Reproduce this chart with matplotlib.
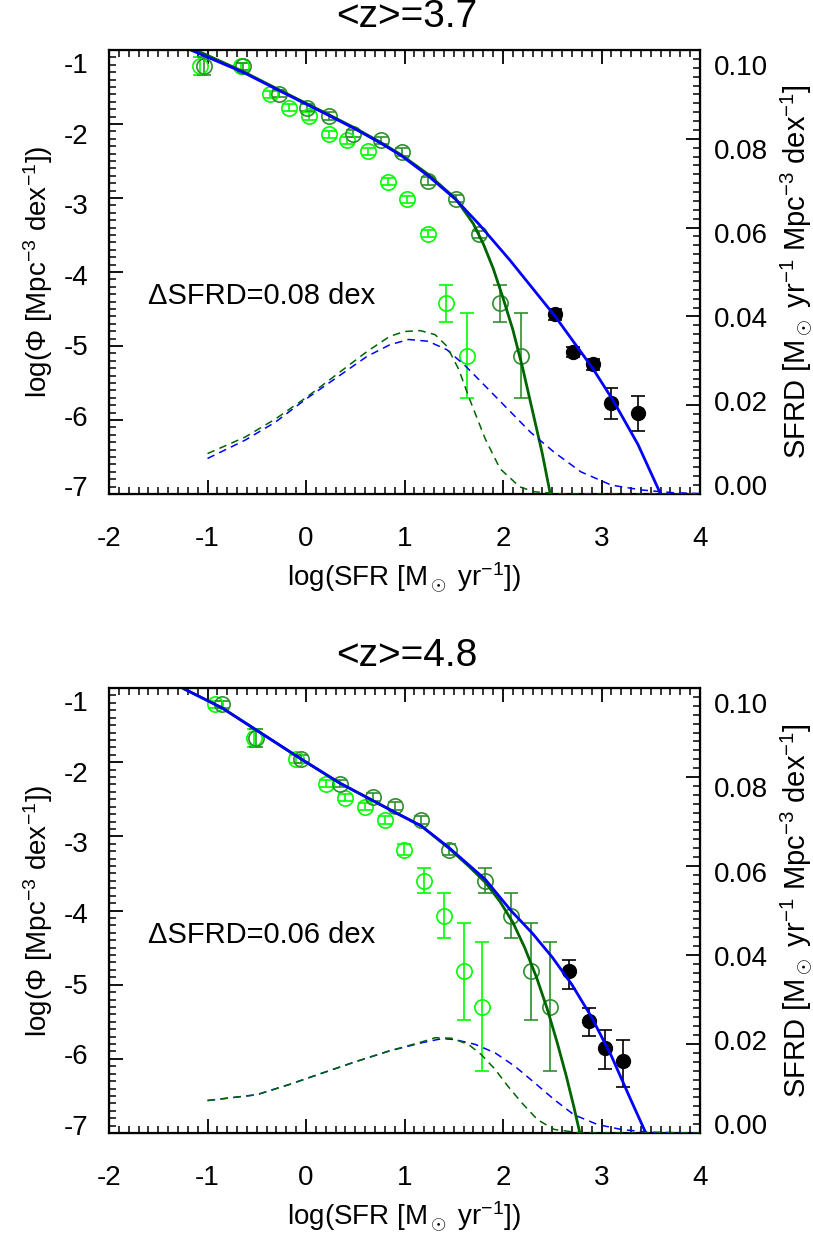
import numpy as np
import matplotlib.pyplot as plt
from matplotlib.ticker import MultipleLocator, NullLocator, FixedLocator, FormatStrFormatter

plt.rcParams['font.family'] = ['Liberation Sans', 'DejaVu Sans']
plt.rcParams['mathtext.fontset'] = 'custom'
plt.rcParams['mathtext.rm'] = 'Liberation Sans'
plt.rcParams['mathtext.it'] = 'Liberation Sans:italic'
plt.rcParams['axes.unicode_minus'] = False

# tick label values
phi_ticks = [-7, -6, -5, -4, -3, -2, -1]
sfrd_ticks = [0.0, 0.02, 0.04, 0.06, 0.08, 0.10]

# ---- <z>=3.7 ----
uv_x_37 = [-1.08, -0.66, -0.37, -0.17, 0.03, 0.23, 0.42, 0.63, 0.83, 1.03, 1.24, 1.42, 1.63]
uv_y_37 = [-1.22, -1.22, -1.60, -1.78, -1.89, -2.14, -2.22, -2.37, -2.78, -3.02, -3.48, -4.42, -5.13]
uv_e_37 = [0.12, 0.05, 0.05, 0.05, 0.05, 0.05, 0.05, 0.05, 0.05, 0.05, 0.05, 0.25, 0.57]
dc_x_37 = [-1.04, -0.64, -0.27, 0.01, 0.23, 0.48, 0.76, 0.97, 1.24, 1.52, 1.76, 1.97, 2.18]
dc_y_37 = [-1.22, -1.22, -1.59, -1.78, -1.89, -2.13, -2.22, -2.38, -2.77, -3.01, -3.49, -4.42, -5.13]
dc_e_37 = [0.12, 0.05, 0.05, 0.05, 0.05, 0.05, 0.05, 0.05, 0.05, 0.05, 0.05, 0.25, 0.57]
ir_x_37 = [2.53, 2.71, 2.91, 3.10, 3.37]
ir_y_37 = [-4.57, -5.08, -5.24, -5.77, -5.90]
ir_lo_37 = [0.08, 0.07, 0.08, 0.22, 0.25]
ir_hi_37 = [0.07, 0.06, 0.07, 0.20, 0.23]

blue_x_37 = [-1.17, -0.64, -0.27, 0.24, 0.49, 0.76, 0.97, 1.24, 1.52, 1.76, 2.07, 2.30, 2.53, 2.72, 2.91, 3.12, 3.37, 3.60]
blue_y_37 = [-1.00, -1.30, -1.55, -1.89, -2.06, -2.26, -2.43, -2.70, -3.02, -3.36, -3.84, -4.22, -4.60, -4.95, -5.30, -5.74, -6.33, -7.00]
green_x_37 = [-1.12, -0.64, -0.27, 0.24, 0.49, 0.76, 0.97, 1.24, 1.52, 1.70, 1.80, 1.90, 2.00, 2.10, 2.20, 2.30, 2.40, 2.48]
green_y_37 = [-1.00, -1.29, -1.54, -1.88, -2.05, -2.25, -2.42, -2.68, -3.01, -3.35, -3.62, -3.95, -4.35, -4.78, -5.30, -5.88, -6.46, -7.00]

# SFRD density curves (right axis)
bdash_x_37 = [-1.0, -0.62, -0.31, 0.0, 0.31, 0.62, 0.85, 1.04, 1.24, 1.43, 1.62, 1.82, 2.05, 2.28, 2.52, 2.79, 3.10, 3.41, 3.72, 4.0]
bdash_s_37 = [0.0080, 0.0121, 0.0162, 0.0214, 0.0262, 0.0310, 0.0336, 0.0348, 0.0344, 0.0325, 0.0288, 0.0243, 0.0191, 0.0139, 0.0094, 0.0050, 0.0020, 0.0009, 0.0003, 0.0001]
gdash_x_37 = [-1.0, -0.62, -0.31, 0.0, 0.31, 0.62, 0.85, 1.00, 1.16, 1.31, 1.43, 1.55, 1.66, 1.82, 1.97, 2.17, 2.32, 2.60, 4.0]
gdash_s_37 = [0.0091, 0.0128, 0.0169, 0.0217, 0.0269, 0.0321, 0.0355, 0.0366, 0.0368, 0.0359, 0.0333, 0.0281, 0.0214, 0.0124, 0.0057, 0.0016, 0.0005, 0.0, 0.0]

# ---- <z>=4.8 ----
uv_x_48 = [-0.92, -0.53, -0.10, 0.20, 0.40, 0.60, 0.80, 0.99, 1.20, 1.40, 1.60, 1.79]
uv_y_48 = [-1.22, -1.67, -1.96, -2.29, -2.48, -2.60, -2.78, -3.18, -3.60, -4.07, -4.82, -5.30]
uv_e_48 = [0.05, 0.12, 0.05, 0.05, 0.05, 0.05, 0.05, 0.07, 0.17, 0.30, 0.65, 0.87]
dc_x_48 = [-0.85, -0.51, -0.05, 0.35, 0.68, 0.90, 1.17, 1.45, 1.82, 2.08, 2.28, 2.48]
dc_y_48 = [-1.22, -1.67, -1.96, -2.29, -2.47, -2.59, -2.78, -3.18, -3.60, -4.07, -4.82, -5.30]
dc_e_48 = [0.05, 0.12, 0.05, 0.05, 0.05, 0.05, 0.05, 0.07, 0.17, 0.30, 0.65, 0.87]
ir_x_48 = [2.67, 2.87, 3.04, 3.22]
ir_y_48 = [-4.82, -5.49, -5.86, -6.03]
ir_lo_48 = [0.24, 0.20, 0.28, 0.35]
ir_hi_48 = [0.15, 0.18, 0.25, 0.29]

blue_x_48 = [-1.24, -0.85, -0.07, 0.34, 0.88, 1.17, 1.45, 1.82, 2.08, 2.30, 2.50, 2.70, 2.90, 3.10, 3.30, 3.45]
blue_y_48 = [-1.01, -1.27, -1.94, -2.28, -2.66, -2.86, -3.15, -3.58, -4.00, -4.31, -4.63, -5.00, -5.44, -5.96, -6.56, -7.00]
green_x_48 = [-1.24, -0.85, -0.07, 0.34, 0.88, 1.17, 1.45, 1.65, 1.82, 1.97, 2.10, 2.22, 2.34, 2.45, 2.55, 2.64, 2.72, 2.78]
green_y_48 = [-1.01, -1.27, -1.94, -2.28, -2.66, -2.86, -3.16, -3.40, -3.62, -3.88, -4.16, -4.50, -4.90, -5.33, -5.78, -6.22, -6.65, -7.00]

bdash_x_48 = [-1.0, -0.50, -0.17, 0.17, 0.50, 0.84, 1.18, 1.38, 1.51, 1.72, 1.92, 2.12, 2.32, 2.52, 2.72, 2.96, 3.20, 3.46, 3.94]
bdash_s_48 = [0.0073, 0.0086, 0.0109, 0.0135, 0.0160, 0.0184, 0.0203, 0.0212, 0.0210, 0.0199, 0.0180, 0.0150, 0.0113, 0.0075, 0.0041, 0.0019, 0.0008, 0.0002, 0.0]
gdash_x_48 = [-1.0, -0.50, -0.17, 0.17, 0.50, 0.84, 1.18, 1.31, 1.48, 1.65, 1.78, 1.92, 2.05, 2.19, 2.35, 2.52, 2.79, 4.0]
gdash_s_48 = [0.0073, 0.0086, 0.0109, 0.0135, 0.0160, 0.0184, 0.0205, 0.0214, 0.0213, 0.0199, 0.0176, 0.0143, 0.0105, 0.0068, 0.0030, 0.0008, 0.0, 0.0]

LIME = '#00ff00'
DKG_PT = '#2f8f2f'
DKG = '#006400'
BLUE = '#0000ff'
FS = 20

# IDL draws the y tick labels slightly squeezed towards the middle of the axis
SQ_L = (0.953, -0.223)     # label value v sits at a*v + b on the log(Phi) scale
SQ_R = (0.946, 0.0020)     # same for the SFRD scale


def panel(ax, uvx, uvy, uve, dcx, dcy, dce, irx, iry, irlo, irhi,
          bx, by, gx, gy, bdx, bds, gdx, gds, note):
    ax.errorbar(uvx, uvy, yerr=uve, fmt='o', ms=11, mfc='none', mec=LIME,
                mew=1.2, ecolor=LIME, elinewidth=1.2, capsize=5, capthick=1.2, zorder=3)
    ax.errorbar(dcx, dcy, yerr=dce, fmt='o', ms=11, mfc='none', mec=DKG_PT,
                mew=1.2, ecolor=DKG_PT, elinewidth=1.2, capsize=5, capthick=1.2, zorder=3)
    ax.errorbar(irx, iry, yerr=[irlo, irhi], fmt='o', ms=10, color='black',
                elinewidth=1.2, capsize=5, capthick=1.2, zorder=4)
    ax.plot(gx, gy, color=DKG, lw=2, zorder=5)
    ax.plot(bx, by, color=BLUE, lw=2, zorder=6)
    ax.text(-1.6, -4.33, note, fontsize=21, va='center', ha='left')

    ax.set_xlim(-2, 4)
    ax.set_ylim(-7, -1)
    ax.xaxis.set_major_locator(MultipleLocator(1))
    ax.xaxis.set_minor_locator(MultipleLocator(0.1))
    ax.yaxis.set_major_locator(MultipleLocator(1))
    ax.yaxis.set_minor_locator(MultipleLocator(0.1))
    ax.tick_params(which='both', direction='in', top=True, right=False,
                   labelleft=False, labelsize=FS)
    ax.tick_params(which='major', length=10, width=1.3)
    ax.tick_params(which='minor', length=5, width=1.1)
    ax.tick_params(axis='x', pad=23)
    for s in ax.spines.values():
        s.set_linewidth(1.6)
    ax.set_xlabel(r'log(SFR [M$_\odot$ yr$^{-1}$])', fontsize=FS, labelpad=6)

    a, b = SQ_L
    lab_l = ax.secondary_yaxis('left', functions=(lambda p: (p - b) / a, lambda v: a * v + b))
    lab_l.yaxis.set_major_locator(FixedLocator(phi_ticks))
    lab_l.yaxis.set_minor_locator(NullLocator())
    lab_l.tick_params(length=0, labelsize=FS, pad=15)
    lab_l.spines['left'].set_visible(False)
    lab_l.set_ylabel(r'log(Φ [Mpc$^{-3}$ dex$^{-1}$])', fontsize=FS, labelpad=6)

    ax2 = ax.twinx()
    ax2.plot(bdx, bds, color=BLUE, lw=1.1, ls=(0, (5, 3.5)))
    ax2.plot(gdx, gds, color=DKG, lw=1.1, ls=(0, (5, 3.5)))
    ax2.set_ylim(0, 0.1)
    ax2.yaxis.set_major_locator(MultipleLocator(0.02))
    ax2.yaxis.set_minor_locator(MultipleLocator(0.002))
    ax2.tick_params(which='both', direction='in', labelright=False)
    ax2.tick_params(which='major', length=10, width=1.3)
    ax2.tick_params(which='minor', length=5, width=1.1)

    c, d = SQ_R
    lab_r = ax2.secondary_yaxis('right', functions=(lambda p: (p - d) / c, lambda v: c * v + d))
    lab_r.yaxis.set_major_locator(FixedLocator(sfrd_ticks))
    lab_r.yaxis.set_minor_locator(NullLocator())
    lab_r.yaxis.set_major_formatter(FormatStrFormatter('%.2f'))
    lab_r.tick_params(length=0, labelsize=FS, pad=10)
    lab_r.spines['right'].set_visible(False)
    lab_r.set_ylabel(r'SFRD [M$_\odot$ yr$^{-1}$ Mpc$^{-3}$ dex$^{-1}$]', fontsize=21, labelpad=8)
    return ax2


fig = plt.figure(figsize=(8.13, 12.4), dpi=100)
ax_top = fig.add_axes([109 / 813, 1 - 494 / 1240, 591 / 813, 444 / 1240])
ax_bot = fig.add_axes([109 / 813, 1 - 1133 / 1240, 591 / 813, 445 / 1240])

panel(ax_top, uv_x_37, uv_y_37, uv_e_37, dc_x_37, dc_y_37, dc_e_37,
      ir_x_37, ir_y_37, ir_lo_37, ir_hi_37, blue_x_37, blue_y_37,
      green_x_37, green_y_37, bdash_x_37, bdash_s_37, gdash_x_37, gdash_s_37,
      'ΔSFRD=0.08 dex')
panel(ax_bot, uv_x_48, uv_y_48, uv_e_48, dc_x_48, dc_y_48, dc_e_48,
      ir_x_48, ir_y_48, ir_lo_48, ir_hi_48, blue_x_48, blue_y_48,
      green_x_48, green_y_48, bdash_x_48, bdash_s_48, gdash_x_48, gdash_s_48,
      'ΔSFRD=0.06 dex')

fig.text(407 / 813, 1 - 17 / 1240, '<z>=3.7', fontsize=28, ha='center', va='center')
fig.text(407 / 813, 1 - 656 / 1240, '<z>=4.8', fontsize=28, ha='center', va='center')

fig.savefig('out.png', dpi=100)
